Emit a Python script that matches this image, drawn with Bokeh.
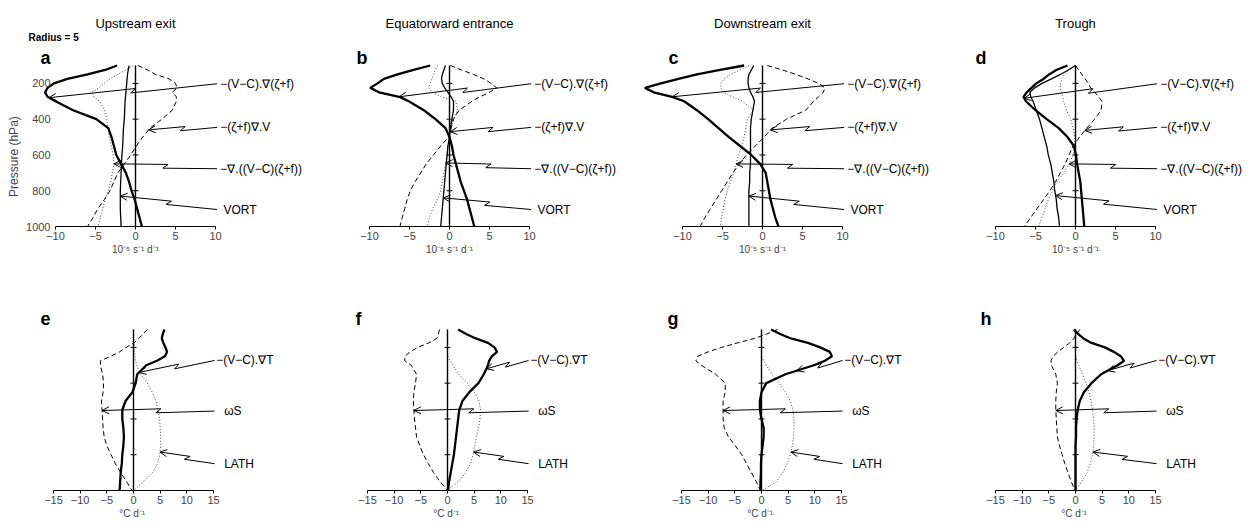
import math
import numpy as np
from bokeh.plotting import figure
from bokeh.layouts import row, column
from bokeh.models import Range1d, LinearAxis, FixedTicker, Label, Arrow, OpenHead
from bokeh.embed import file_html
from bokeh.resources import INLINE

# ---------------- data ----------------
LEVELS = [100, 125, 150, 175, 200, 225, 250, 275, 300, 350, 400, 450, 500,
          550, 600, 650, 700, 750, 800, 850, 900, 950, 1000]
P_TICKS = [200, 400, 600, 800, 1000]
TOP_XTICKS = [-10, -5, 0, 5, 10]
BOT_XTICKS = [-15, -10, -5, 0, 5, 10, 15]
TOP_TITLES = ["Upstream exit", "Equatorward entrance", "Downstream exit", "Trough"]
TOP_LETTERS = ["a", "b", "c", "d"]
BOT_LETTERS = ["e", "f", "g", "h"]
TOP_XLABEL = "10\u207b\u2075 s\u207b\u00b9 d\u207b\u00b9"
BOT_XLABEL = "\u00b0C  d\u207b\u00b9"
Y_LABEL = "Pressure (hPa)"
TOP_NAMES = ["\u2212(V\u2212C).\u2207(\u03b6+f)", "\u2212(\u03b6+f)\u2207.V",
             "\u2212\u2207.((V\u2212C)(\u03b6+f))", "VORT"]
BOT_NAMES = ["\u2212(V\u2212C).\u2207T", "\u03c9S", "LATH"]

# vorticity budget terms, 10^-5 s^-1 d^-1
ADV_A = [-2.3, -3.8, -6.0, -8.5, -10.2, -11.0, -11.3, -11.0, -10.0, -7.8, -4.9, -3.4, -3.0, -2.7, -2.4, -1.8, -1.2, -0.8, -0.5, -0.1, 0.2, 0.5, 0.8]
DIV_A = [0.3, 1.5, 2.5, 4.2, 5.0, 5.2, 4.6, 5.1, 5.1, 4.6, 3.3, 1.8, 0.9, 0.1, -0.6, -1.4, -2.2, -2.7, -3.2, -3.9, -4.7, -5.3, -6.0]
FLUX_A = [-0.3, -1.2, -2.2, -3.2, -3.9, -4.6, -5.5, -5.2, -4.5, -3.9, -3.6, -3.4, -3.3, -3.0, -2.8, -2.7, -2.9, -3.1, -3.4, -3.8, -4.1, -4.4, -4.7]
VORT_A = [-0.8, -0.9, -1.0, -1.05, -1.1, -1.15, -1.2, -1.25, -1.3, -1.35, -1.4, -1.5, -1.55, -1.6, -1.7, -1.75, -1.8, -1.85, -1.9, -1.9, -1.9, -1.85, -1.8]

ADV_B = [-2.4, -4.5, -6.5, -8.2, -9.0, -9.9, -8.8, -6.3, -5.1, -3.2, -1.75, -0.5, 0.0, 0.3, 0.5, 0.8, 1.1, 1.4, 1.8, 2.2, 2.5, 2.8, 3.1]
DIV_B = [0.1, 1.5, 3.0, 4.3, 5.2, 5.9, 5.0, 3.8, 2.8, 1.2, 0.5, 0.2, -0.1, -1.1, -2.0, -2.9, -3.6, -4.3, -4.9, -5.3, -5.6, -5.9, -6.2]
FLUX_B = [-1.5, -1.8, -2.0, -2.2, -2.4, -2.6, -2.2, -1.0, 0.8, 1.0, 0.5, 0.2, 0.0, -0.2, -0.3, -0.5, -0.7, -0.9, -1.1, -1.5, -2.1, -2.5, -2.8]
VORT_B = [-0.5, -0.7, -0.9, -1.0, -0.9, -0.6, -0.2, 0.2, 0.5, 0.5, 0.3, 0.1, 0.0, -0.2, -0.3, -0.4, -0.5, -0.6, -0.7, -0.8, -0.9, -1.0, -1.1]

ADV_C = [-2.3, -5.3, -8.2, -10.5, -12.7, -14.7, -13.6, -11.3, -9.8, -8.2, -6.8, -5.5, -4.2, -2.8, -1.4, -0.3, 0.4, 0.6, 0.8, 1.0, 1.3, 1.6, 2.0]
DIV_C = [0.6, 2.5, 4.2, 5.7, 7.0, 7.8, 7.6, 7.0, 6.4, 5.4, 3.0, 1.2, 0.2, -0.9, -2.0, -2.9, -3.7, -4.4, -5.1, -5.8, -6.5, -7.2, -7.8]
FLUX_C = [-1.7, -2.8, -4.0, -4.8, -5.2, -5.2, -4.9, -3.8, -2.5, -1.1, -1.9, -2.1, -2.3, -2.6, -3.0, -3.3, -3.6, -4.0, -4.4, -4.7, -4.9, -5.1, -5.3]
VORT_C = [-1.1, -1.4, -1.7, -1.8, -1.8, -1.7, -1.5, -1.2, -1.0, -1.2, -1.4, -1.5, -1.5, -1.5, -1.5, -1.5, -1.6, -1.6, -1.7, -1.7, -1.7, -1.7, -1.7]

ADV_D = [-1.0, -2.4, -3.3, -4.0, -4.9, -5.5, -6.1, -6.5, -6.2, -5.0, -3.6, -2.1, -1.0, -0.2, 0.05, 0.2, 0.4, 0.6, 0.7, 0.8, 0.9, 1.0, 1.1]
DIV_D = [0.0, 0.4, 0.8, 1.2, 1.6, 1.9, 2.4, 2.9, 3.3, 3.2, 2.4, 1.4, 0.5, -0.3, -0.8, -1.3, -1.9, -2.5, -3.2, -4.0, -4.8, -5.6, -6.4]
FLUX_D = [0.0, -0.8, -1.4, -1.7, -1.9, -1.9, -1.8, -1.6, -1.5, -1.1, -0.6, -0.3, -0.1, 0.0, -0.3, -0.8, -1.5, -2.3, -2.9, -3.4, -3.8, -4.2, -4.6]
VORT_D = [0.0, -0.9, -1.9, -3.0, -4.2, -5.1, -5.7, -5.6, -5.3, -4.9, -4.5, -4.2, -3.9, -3.6, -3.4, -3.1, -2.9, -2.7, -2.6, -2.4, -2.3, -2.1, -2.0]

# thermodynamic budget terms, degC d^-1
ADVT_E = [5.8, 5.5, 5.3, 5.6, 6.0, 6.3, 5.9, 4.4, 2.4, 0.7, 0.4, -0.2, -1.5, -2.1, -2.1, -1.9, -1.8, -1.9, -2.1, -2.2, -2.4, -2.5, -2.6]
OMEGA_E = [2.6, 1.8, 1.0, 0.1, -1.4, -2.6, -4.3, -6.2, -6.2, -5.8, -5.6, -5.7, -6.0, -5.9, -5.8, -5.7, -5.5, -5.0, -4.2, -3.4, -2.4, -1.3, -0.3]
LATH_E = [0.0, 0.0, 0.0, 0.1, 0.1, 0.2, 0.3, 0.4, 0.6, 1.3, 2.6, 3.5, 4.2, 4.6, 4.9, 5.0, 5.1, 5.1, 4.9, 4.5, 3.6, 1.9, 0.0]

ADVT_F = [2.0, 3.5, 5.3, 7.6, 8.8, 9.3, 8.3, 7.8, 7.6, 6.8, 5.8, 4.1, 2.8, 2.2, 2.0, 1.8, 1.6, 1.4, 1.2, 0.9, 0.6, 0.3, 0.1]
OMEGA_F = [-1.5, -1.7, -2.0, -3.5, -5.6, -7.0, -8.0, -8.0, -6.8, -5.8, -6.0, -6.3, -6.4, -6.3, -6.2, -6.0, -5.8, -5.2, -4.5, -3.6, -2.6, -1.4, 0.0]
LATH_F = [0.0, 0.0, 0.0, 0.0, 0.0, 0.0, 0.0, 0.5, 1.0, 2.1, 3.7, 5.0, 5.9, 6.2, 6.1, 5.8, 5.4, 5.1, 4.8, 4.3, 3.4, 2.0, 0.0]

ADVT_G = [1.8, 3.5, 5.5, 8.7, 11.0, 12.8, 13.2, 11.9, 9.8, 4.5, 0.9, 0.0, -0.3, -0.3, 0.0, 0.4, 0.4, 0.2, 0.0, -0.1, -0.1, -0.2, -0.2]
OMEGA_G = [3.0, 1.0, -1.3, -4.5, -7.5, -10.0, -12.0, -12.3, -11.3, -8.6, -6.8, -6.8, -7.2, -7.2, -7.2, -7.0, -6.2, -4.9, -3.7, -2.8, -1.9, -1.0, -0.2]
LATH_G = [0.0, 0.0, 0.0, 0.0, 0.0, 0.0, 0.0, 0.4, 0.9, 2.0, 3.3, 4.5, 5.4, 5.9, 6.1, 6.1, 6.0, 5.8, 5.4, 4.8, 4.0, 2.8, 0.1]

ADVT_H = [-0.3, 0.5, 1.5, 3.0, 5.5, 7.2, 8.5, 9.1, 7.9, 4.8, 3.0, 1.6, 0.8, 0.4, 0.2, 0.1, 0.1, 0.0, 0.0, 0.0, 0.0, 0.0, 0.0]
OMEGA_H = [0.8, 0.2, -0.3, -1.1, -2.2, -3.3, -4.2, -4.6, -4.5, -3.7, -3.4, -3.6, -3.7, -3.7, -3.6, -3.5, -3.4, -3.0, -2.5, -2.0, -1.4, -0.8, -0.1]
LATH_H = [0.0, 0.0, 0.0, 0.0, 0.0, 0.0, 0.0, 0.3, 0.6, 1.3, 2.0, 2.5, 2.9, 3.2, 3.4, 3.5, 3.5, 3.4, 3.2, 2.8, 2.2, 1.2, 0.0]

TOP_SERIES = [(ADV_A, DIV_A, FLUX_A, VORT_A), (ADV_B, DIV_B, FLUX_B, VORT_B),
              (ADV_C, DIV_C, FLUX_C, VORT_C), (ADV_D, DIV_D, FLUX_D, VORT_D)]
BOT_SERIES = [(ADVT_E, OMEGA_E, LATH_E), (ADVT_F, OMEGA_F, LATH_F),
              (ADVT_G, OMEGA_G, LATH_G), (ADVT_H, OMEGA_H, LATH_H)]

# pressure at which each pointer touches its curve
TOP_TIP_P = [[280, 460, 650, 830], [275, 470, 645, 840], [275, 460, 650, 830], [283, 463, 650, 827]]
BOT_TIP_P = [[340, 553, 785], [320, 553, 785], [330, 553, 785], [330, 553, 785]]

# ---------------- layout ----------------
FONT = "Liberation Sans"
SY = 161.0 / 900.0           # px per hPa
FIG_LEFT = [0, 313, 626, 939]
FIG_W = [313, 313, 313, 318]
TOP = dict(zero=[135, 449, 762, 1075], sx=8.0, fig_top=0, y100=65, y1000=226, bb=32)
BOT = dict(zero=[133, 447, 761, 1075], sx=16.0 / 3.0, fig_top=258, y100=329, y1000=490, bb=31)
Y_LABEL_P = 609


def px_v(px, i, geo):
    return (px - geo["zero"][i]) / geo["sx"]


def py_p(py, geo):
    return 100 + (py - geo["y100"]) / SY


def make_fig(i, geo, border_left=0):
    zero, sx = geo["zero"][i], geo["sx"]
    left = FIG_LEFT[i] + border_left
    x0 = (left - zero) / sx
    x1 = (FIG_LEFT[i] + FIG_W[i] - zero) / sx
    frame_h = geo["y1000"] - geo["fig_top"]
    y_top = 1000 - frame_h / SY
    p = figure(width=FIG_W[i], height=frame_h + geo["bb"],
               x_range=Range1d(x0, x1), y_range=Range1d(1000, y_top),
               x_axis_type=None, y_axis_type=None, toolbar_location=None,
               output_backend="svg", min_border_left=border_left, min_border_right=0,
               min_border_top=0, min_border_bottom=geo["bb"], outline_line_color=None)
    return p


def add_xaxis(p, ticks, label):
    ax = LinearAxis(bounds=(ticks[0], ticks[-1]),
                    ticker=FixedTicker(ticks=ticks, minor_ticks=[]),
                    major_label_overrides={t: ("\u2212%d" % abs(t) if t < 0 else str(t)) for t in ticks},
                    major_label_text_font=FONT, major_label_text_font_size="11px",
                    major_label_standoff=2, major_tick_in=0, major_tick_out=3,
                    minor_tick_in=0, minor_tick_out=0, axis_line_width=1.2)
    p.add_layout(ax, "below")
    # axis title, centred on the zero of the scale (second, label-only axis)
    lab = LinearAxis(ticker=FixedTicker(ticks=[0], minor_ticks=[]),
                     major_label_overrides={0: label},
                     major_label_text_font=FONT, major_label_text_font_size="10px",
                     major_label_standoff=1, axis_line_color=None,
                     major_tick_line_color=None, minor_tick_line_color=None,
                     major_tick_in=0, major_tick_out=0, minor_tick_in=0, minor_tick_out=0)
    p.add_layout(lab, "below")


def add_zero_line(p, sx):
    p.segment(x0=[0], y0=[LEVELS[0]], x1=[0], y1=[LEVELS[-1]], line_color="black", line_width=1.4)
    tk = 3.0 / sx
    lv = P_TICKS[:-1]
    p.segment(x0=[-tk] * len(lv), y0=lv, x1=[tk] * len(lv), y1=lv, line_color="black", line_width=1)


def add_pointer(p, sx, tip_v, tip_p, end_v, end_p):
    tx, ty = tip_v * sx, tip_p * SY
    ex, ey = end_v * sx, end_p * SY
    dx, dy = ex - tx, ey - ty
    L = math.hypot(dx, dy)
    ux, uy = dx / L, dy / L
    nx, ny = -uy, ux
    mx, my = tx + 0.5 * dx, ty + 0.5 * dy
    axp, ayp = mx + 2.5 * ux - 2.0 * nx, my + 2.5 * uy - 2.0 * ny
    bxp, byp = mx - 2.5 * ux + 2.0 * nx, my - 2.5 * uy + 2.0 * ny
    p.add_layout(Arrow(end=OpenHead(size=7, line_width=1, line_color="black"),
                       x_start=axp / sx, y_start=ayp / SY, x_end=tip_v, y_end=tip_p,
                       line_width=1, line_color="black"))
    p.line([axp / sx, bxp / sx, end_v], [ayp / SY, byp / SY, end_p], line_color="black", line_width=1)


def add_label(p, x, y, text, size="12px", style="normal", align="left", baseline="middle"):
    p.add_layout(Label(x=x, y=y, text=text, text_font=FONT, text_font_size=size,
                       text_font_style=style, text_align=align, text_baseline=baseline,
                       text_color="black"))


STYLES = {
    "thick": dict(line_color="black", line_width=2.3),
    "thin": dict(line_color="black", line_width=1.3),
    "dash": dict(line_color="black", line_width=1.0, line_dash="5 3"),
    "dot": dict(line_color="#444444", line_width=1.0, line_dash="1 2"),
}

TOP_LETTER_X = [40, 356, 668, 975]
BOT_LETTER_X = [40, 355, 667, 980]

top_figs = []
for i in range(4):
    geo = TOP
    sx = geo["sx"]
    bl = 24 if i == 0 else 0
    p = make_fig(i, geo, bl)
    adv, div, flux, vort = TOP_SERIES[i]
    p.line(flux, LEVELS, **STYLES["dot"])
    p.line(div, LEVELS, **STYLES["dash"])
    p.line(vort, LEVELS, **STYLES["thin"])
    p.line(adv, LEVELS, **STYLES["thick"])
    add_zero_line(p, sx)
    add_xaxis(p, TOP_XTICKS, TOP_XLABEL)
    if i == 0:
        ya = LinearAxis(bounds=(200, 1000), ticker=FixedTicker(ticks=P_TICKS, minor_ticks=[]),
                        axis_line_color=None,
                        major_tick_line_color=None, minor_tick_line_color=None,
                        major_tick_in=0, major_tick_out=0, minor_tick_in=0, minor_tick_out=0,
                        major_label_text_font=FONT, major_label_text_font_size="11px",
                        major_label_standoff=-26)
        p.add_layout(ya, "left")
        yl = LinearAxis(ticker=FixedTicker(ticks=[Y_LABEL_P], minor_ticks=[]),
                        major_label_overrides={Y_LABEL_P: Y_LABEL},
                        major_label_orientation="vertical",
                        major_label_text_font=FONT, major_label_text_font_size="12px",
                        major_label_standoff=2, axis_line_color=None,
                        major_tick_line_color=None, minor_tick_line_color=None,
                        major_tick_in=0, major_tick_out=0, minor_tick_in=0, minor_tick_out=0)
        p.add_layout(yl, "left")
        add_label(p, px_v(28, i, geo), py_p(37, geo), "Radius  =  5", size="10px", style="bold",
                  baseline="alphabetic")
    add_label(p, 0, py_p(23, geo), TOP_TITLES[i], size="13px", align="center", baseline="alphabetic")
    add_label(p, px_v(TOP_LETTER_X[i], i, geo), py_p(57, geo), TOP_LETTERS[i], size="18px",
              style="bold", baseline="alphabetic")
    label_p = [202, 446, 677, 905]
    text_v = [10.6, 10.6, 10.6, 11.0]
    for k, series in enumerate((adv, div, flux, vort)):
        tp = TOP_TIP_P[i][k]
        tv = float(np.interp(tp, LEVELS, series))
        add_pointer(p, sx, tv, tp, 10.2, label_p[k])
        add_label(p, text_v[k], label_p[k], TOP_NAMES[k])
    top_figs.append(p)

bot_figs = []
for i in range(4):
    geo = BOT
    sx = geo["sx"]
    p = make_fig(i, geo, 0)
    advt, omg, lath = BOT_SERIES[i]
    p.line(lath, LEVELS, **STYLES["dot"])
    p.line(omg, LEVELS, **STYLES["dash"])
    p.line(advt, LEVELS, **STYLES["thick"])
    add_zero_line(p, sx)
    add_xaxis(p, BOT_XTICKS, BOT_XLABEL)
    add_label(p, px_v(BOT_LETTER_X[i], i, geo), py_p(318, geo), BOT_LETTERS[i], size="18px",
              style="bold", baseline="alphabetic")
    label_p = [273, 556, 850]
    text_v = [15.5, 17.0, 17.0]
    for k, series in enumerate((advt, omg, lath)):
        tp = BOT_TIP_P[i][k]
        tv = float(np.interp(tp, LEVELS, series))
        add_pointer(p, sx, tv, tp, 15.2, label_p[k])
        add_label(p, text_v[k], label_p[k], BOT_NAMES[k])
    bot_figs.append(p)

layout = column(row(*top_figs), row(*bot_figs))
open("out.html", "w").write(file_html(layout, INLINE))
